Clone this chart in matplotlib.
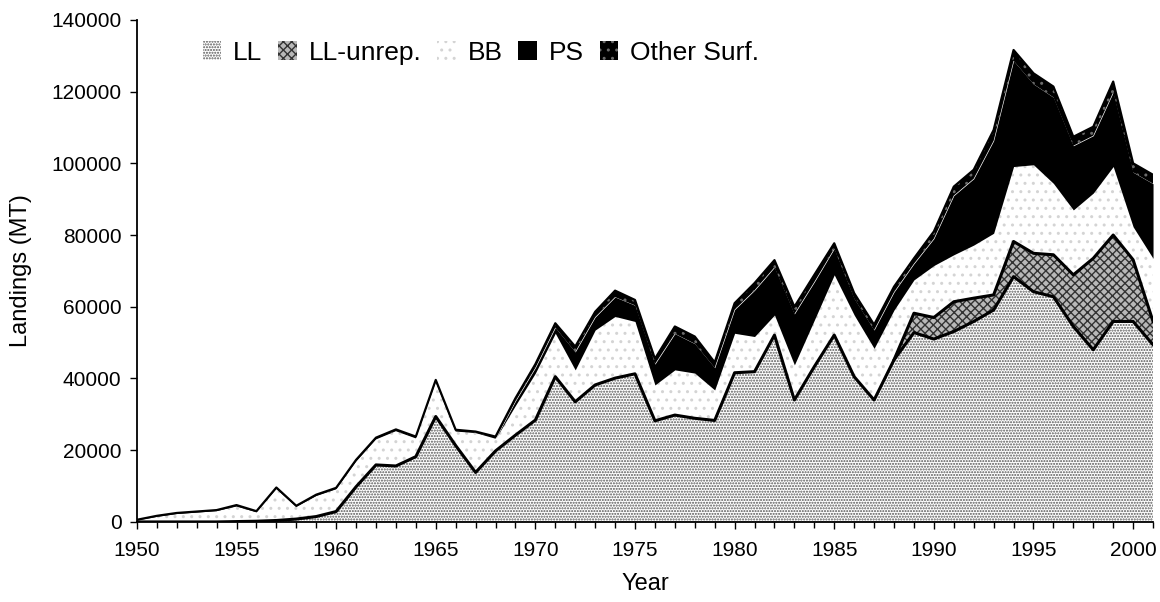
import numpy as np
import matplotlib
matplotlib.use('Agg')
import matplotlib.pyplot as plt

plt.rcParams['font.family'] = ['Liberation Sans', 'DejaVu Sans']
plt.rcParams['hatch.linewidth'] = 1.0

years = np.arange(1950, 2002)

# Landings by gear (MT)
ll = [0, 0, 0, 0, 0, 100, 200, 400, 800, 1500,
      2900, 9800, 15900, 15600, 18200, 29400, 21300, 13800, 19800, 24200,
      28400, 40500, 33500, 38200, 40100, 41300, 28200, 29800, 28900, 28300,
      41600, 41900, 52100, 34000, 43300, 52100, 40500, 34000, 45200, 52800,
      51000, 53100, 55900, 59100, 68400, 64200, 62800, 54500, 48000, 55900,
      55900, 49400]
ll_unrep = [0] * 39 + [5400,
            6000, 8300, 6500, 4200, 9800, 10700, 11700, 14400, 25500, 24100,
            17200, 6500]
bb = [400, 1400, 2200, 2600, 3000, 4200, 2500, 8800, 3400, 5700,
      6200, 7000, 7100, 9700, 5100, 9600, 3900, 11000, 3400, 8300,
      13100, 12100, 8900, 15300, 17200, 14600, 10000, 12600, 12600, 8500,
      11000, 9800, 5600, 9800, 13000, 16800, 17200, 14400, 13900, 9300,
      14500, 13100, 14800, 17200, 20900, 24700, 19900, 18100, 18200, 19100,
      9200, 17600]
ps = [0] * 19 + [1200,
      1500, 1600, 5000, 3600, 5400, 4500, 5800, 10100, 8200, 6200,
      6600, 12900, 13300, 14200, 10600, 7300, 4600, 5100, 5000, 4500,
      7500, 16500, 18500, 25800, 29500, 22500, 24000, 17900, 16000, 20700,
      15200, 20800]
other_surf = [200, 300, 300, 300, 300, 400, 300, 400, 300, 400,
              400, 500, 500, 500, 500, 600, 500, 400, 600, 800,
              1000, 1200, 1500, 1500, 1800, 1500, 1500, 2000, 2000, 1500,
              1800, 2000, 2000, 2000, 2000, 1500, 1500, 1500, 1500, 1500,
              2000, 2500, 2500, 3000, 3000, 3000, 3000, 2500, 2500, 3000,
              2500, 2500]

labels = ['LL', 'LL-unrep.', 'BB', 'PS', 'Other Surf.']
series = [ll, ll_unrep, bb, ps, other_surf]
faces = ['white', '#b8b8b8', 'white', 'black', 'black']
hatches = ['......', 'xxxx', '..', None, '..']
hatch_cols = ['#555555', '#333333', '#d4d4d4', 'black', '#6a6a6a']

fig = plt.figure(figsize=(11.6, 6.02), dpi=100)
ax = fig.add_axes([0.118, 0.133, 0.876, 0.834])

polys = ax.stackplot(years, *series, labels=labels, linewidth=0)
for p, fc, h, hc in zip(polys, faces, hatches, hatch_cols):
    p.set_facecolor(fc)
    p.set_edgecolor(hc)
    if h:
        p.set_hatch(h)

# heavy outlines on the layer tops
cum = np.cumsum(np.array(series), axis=0)
ax.plot(years, cum[0], color='black', lw=2.2)
ax.plot(years[38:], cum[1][38:], color='black', lw=2.2)
ax.plot(years, cum[4], color='black', lw=1.6)

ax.set_xlim(1950, 2001)
ax.set_ylim(0, 140000)
ax.set_xticks(np.arange(1950, 2001, 5))
ax.set_xticks(years, minor=True)
ax.set_yticks(np.arange(0, 140001, 20000))
ax.tick_params(axis='both', direction='out', length=5, width=1, labelsize=15)
ax.tick_params(axis='x', which='minor', direction='out', length=4, width=1)
ax.tick_params(axis='x', pad=9)
ax.tick_params(axis='y', pad=6)
for s in ['top', 'right']:
    ax.spines[s].set_visible(False)
ax.spines['left'].set_linewidth(1.3)
ax.spines['bottom'].set_linewidth(1.3)

ax.set_xlabel('Year', fontsize=17, labelpad=9)
ax.set_ylabel('Landings (MT)', fontsize=17, labelpad=14)

ax.legend(loc='upper left', bbox_to_anchor=(0.052, 0.985), ncol=5, frameon=False,
          fontsize=19, borderpad=0, handlelength=0.7, handleheight=0.7,
          handletextpad=0.45, columnspacing=0.6)

fig.savefig('out.png', dpi=100)
